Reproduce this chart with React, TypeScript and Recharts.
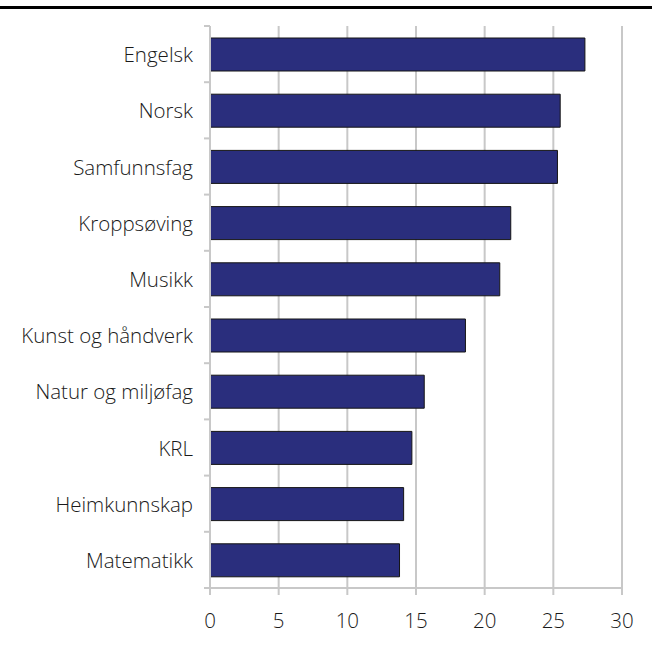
import React from "react";
import { BarChart, Bar, XAxis, YAxis, CartesianGrid } from "recharts";

const subjects = [
  "Engelsk",
  "Norsk",
  "Samfunnsfag",
  "Kroppsøving",
  "Musikk",
  "Kunst og håndverk",
  "Natur og miljøfag",
  "KRL",
  "Heimkunnskap",
  "Matematikk",
];
const values = [27.3, 25.5, 25.3, 21.9, 21.1, 18.6, 15.6, 14.7, 14.1, 13.8];
const xTicks = [0, 5, 10, 15, 20, 25, 30];

const data = subjects.map((s, i) => ({ name: s, value: values[i] }));

const GRID = "#c8c8c8";
const FONT = "'Open Sans', 'Noto Sans', sans-serif";
const FONT_SIZE = 20.5;
const Y_TICK_SIZE = 6;
const Y_TICK_MARGIN = 11;

const YTick = (props: any) => {
  const { x, y, payload, index, visibleTicksCount } = props;
  const off = payload.offset || 0;
  const lx1 = x + Y_TICK_MARGIN;
  const lx2 = x + Y_TICK_MARGIN + Y_TICK_SIZE;
  const last = index === (visibleTicksCount ?? subjects.length) - 1;
  return (
    <g>
      <line x1={lx1} x2={lx2} y1={y - off} y2={y - off} stroke={GRID} strokeWidth={2} />
      {last && (
        <line x1={lx1} x2={lx2} y1={y + off} y2={y + off} stroke={GRID} strokeWidth={2} />
      )}
      <text
        x={x}
        y={y}
        textAnchor="end"
        dominantBaseline="central"
        fontFamily={FONT}
        fontSize={FONT_SIZE}
        fontWeight={330}
        fill="#1a1a1a"
      >
        {payload.value}
      </text>
    </g>
  );
};

export default function App() {
  return (
    <div style={{ position: "absolute", left: 0, top: 0, width: 652, height: 650, background: "#fff" }}>
      <div style={{ position: "absolute", left: 0, top: 6, width: 652, height: 2.5, background: "#000" }} />
      <BarChart
        width={652}
        height={650}
        data={data}
        layout="vertical"
        margin={{ top: 26, right: 30, left: 0, bottom: 0 }}
        barSize={33}
      >
        <CartesianGrid horizontal={false} stroke={GRID} strokeWidth={2} />
        <XAxis
          type="number"
          domain={[0, 30]}
          ticks={xTicks}
          height={62}
          axisLine={{ stroke: GRID, strokeWidth: 2 }}
          tickLine={{ stroke: GRID, strokeWidth: 2 }}
          tickSize={7}
          tickMargin={18}
          tick={{ fontFamily: FONT, fontSize: FONT_SIZE, fontWeight: 330, fill: "#1a1a1a" }}
          interval={0}
        />
        <YAxis
          type="category"
          dataKey="name"
          width={210}
          axisLine={{ stroke: GRID, strokeWidth: 2 }}
          tickLine={false}
          tickSize={Y_TICK_SIZE}
          tickMargin={Y_TICK_MARGIN}
          tick={<YTick />}
          interval={0}
        />
        <Bar dataKey="value" fill="#2a2e7d" stroke="#151515" strokeWidth={1} isAnimationActive={false} />
      </BarChart>
    </div>
  );
}
